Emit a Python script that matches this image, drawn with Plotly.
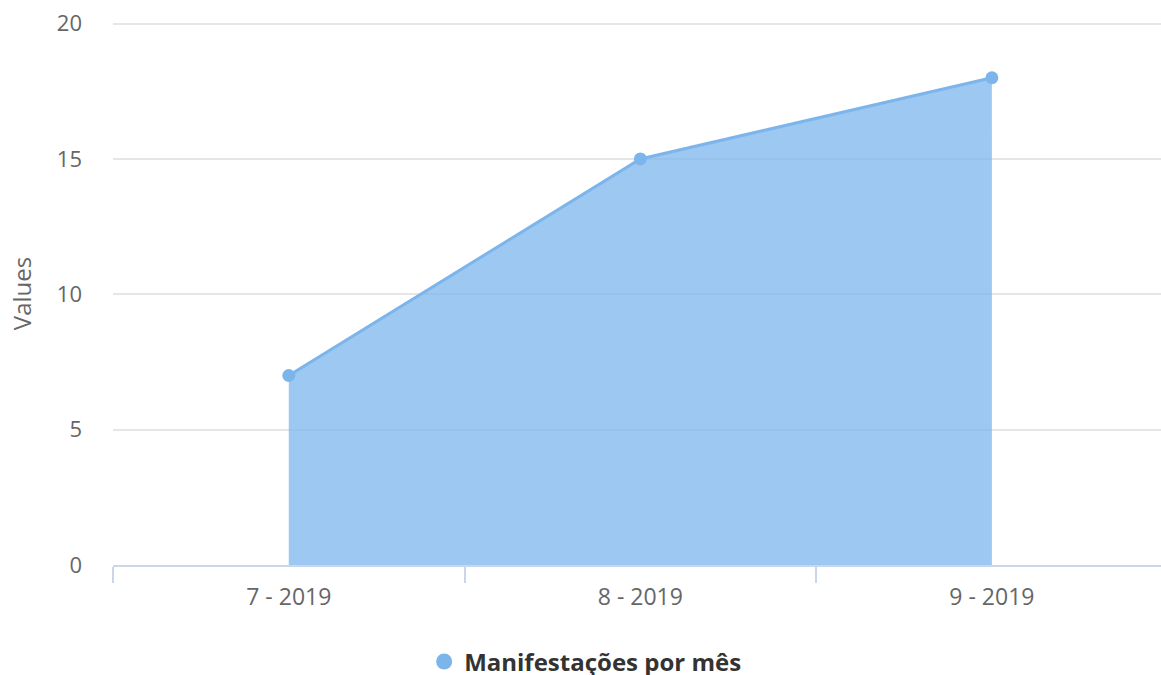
import plotly.graph_objects as go

categories = ["7 - 2019", "8 - 2019", "9 - 2019"]
values = [7, 15, 18]
series_name = "Manifestações por mês"
y_ticks = [0, 5, 10, 15, 20]

FONT = "Open Sans"
COLOR = "#7cb5ec"

fig = go.Figure()
fig.add_trace(go.Scatter(
    x=categories, y=values, name=series_name,
    mode="lines+markers", fill="tozeroy",
    fillcolor="rgba(124,181,236,0.75)",
    line=dict(color=COLOR, width=3),
    marker=dict(color=COLOR, size=13, symbol="circle"),
    showlegend=False,
))
# legend entry (marker-only symbol, like the reference)
fig.add_trace(go.Scatter(
    x=[None], y=[None], name=series_name, mode="markers",
    marker=dict(color=COLOR, size=24, symbol="circle"),
    showlegend=True,
))

fig.update_layout(
    width=1161, height=675,
    margin=dict(l=113, r=0, t=22, b=110, autoexpand=False),
    paper_bgcolor="white", plot_bgcolor="white",
    font=dict(family=FONT, size=20, color="#666666"),
    showlegend=True,
    legend=dict(orientation="h", x=0.451, xanchor="center", y=-0.137, yanchor="top",
                font=dict(family=FONT, size=24, color="#333333", weight="bold"),
                itemsizing="trace"),
    xaxis=dict(
        type="category", range=[-0.5, 2.481], automargin=False,
        tickson="boundaries", ticks="outside", ticklen=16, tickcolor="#ccd6eb", tickwidth=1.5,
        showline=True, linecolor="#ccd6eb", linewidth=2,
        showgrid=False, zeroline=False, ticklabelstandoff=10,
        tickfont=dict(family=FONT, size=23, color="#666666"),
    ),
    yaxis=dict(
        range=[0, 20.06], tickvals=y_ticks, automargin=False,
        showgrid=True, gridcolor="#e6e6e6", gridwidth=1.5,
        zeroline=False, showline=False,
        ticks="", ticklabelstandoff=30,
        tickfont=dict(family=FONT, size=22, color="#666666"),
        title=dict(text="Values", font=dict(family=FONT, size=24, color="#666666"), standoff=18),
    ),
)

fig.write_html("out.html", config={"displayModeBar": False},
               post_script="document.body.style.margin='0';")
